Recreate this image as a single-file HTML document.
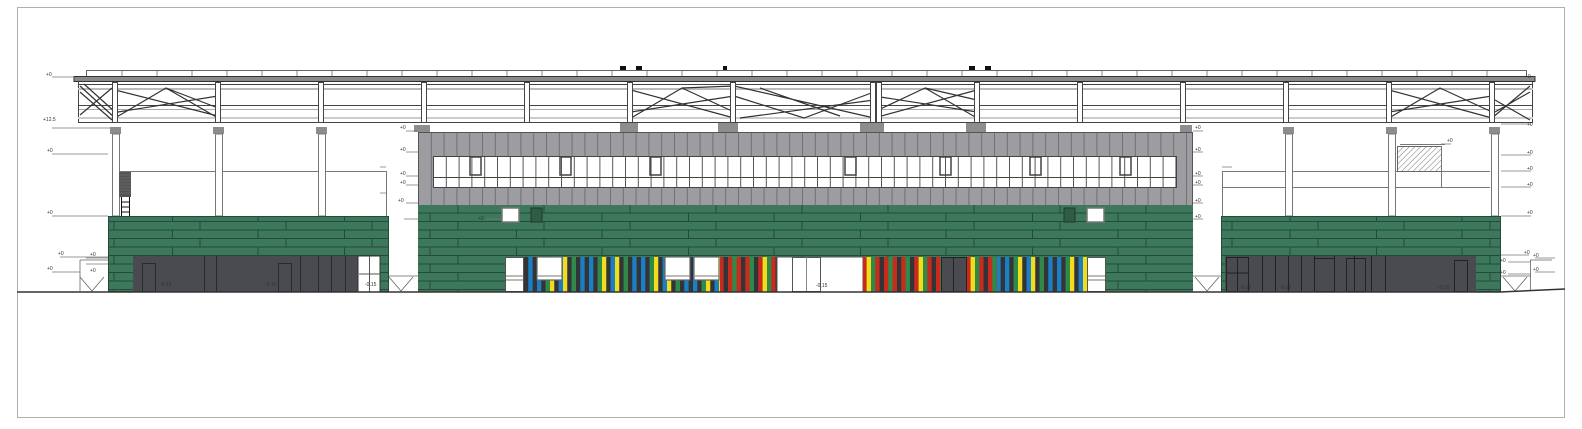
<!DOCTYPE html>
<html><head><meta charset="utf-8"><style>
html,body{margin:0;padding:0;background:#fff;}
svg{display:block;font-family:"Liberation Sans",sans-serif;}
</style></head><body>
<svg width="1582" height="429" viewBox="0 0 1582 429" xmlns="http://www.w3.org/2000/svg">
<defs>
<pattern id="grn" x="0" y="0" width="172" height="17" patternUnits="userSpaceOnUse">
<rect width="172" height="17" fill="#3d785c"/>
<line x1="0" y1="0.5" x2="172" y2="0.5" stroke="#244a38" stroke-width="1"/>
<line x1="0" y1="9" x2="172" y2="9" stroke="#244a38" stroke-width="1"/>
<line x1="28" y1="0" x2="28" y2="8.5" stroke="#244a38"/>
<line x1="114" y1="0" x2="114" y2="8.5" stroke="#244a38"/>
<line x1="0.5" y1="9" x2="0.5" y2="17" stroke="#244a38"/>
<line x1="86" y1="9" x2="86" y2="17" stroke="#244a38"/>
</pattern>
<pattern id="gry" x="418" y="0" width="12.8" height="10" patternUnits="userSpaceOnUse">
<rect width="12.8" height="10" fill="#9c9ca1"/>
<line x1="0.5" y1="0" x2="0.5" y2="10" stroke="#6f6f75"/>
</pattern>
<pattern id="win" x="433" y="0" width="12.8" height="10" patternUnits="userSpaceOnUse">
<rect width="12.8" height="10" fill="#fff"/>
<line x1="0.5" y1="0" x2="0.5" y2="10" stroke="#555"/>
</pattern>
<pattern id="stA" x="524" y="0" width="52" height="40" patternUnits="userSpaceOnUse">
<rect x="0" width="4.4" height="40" fill="#333338"/>
<rect x="4.33" width="4.4" height="40" fill="#1a7fc4"/>
<rect x="8.66" width="4.4" height="40" fill="#333338"/>
<rect x="13" width="4.4" height="40" fill="#1a7fc4"/>
<rect x="17.3" width="4.4" height="40" fill="#333338"/>
<rect x="21.6" width="4.4" height="40" fill="#2f8a4a"/>
<rect x="26" width="4.4" height="40" fill="#f2dd1a"/>
<rect x="30.3" width="4.4" height="40" fill="#333338"/>
<rect x="34.6" width="4.4" height="40" fill="#1a7fc4"/>
<rect x="39" width="4.4" height="40" fill="#f2dd1a"/>
<rect x="43.3" width="4.4" height="40" fill="#333338"/>
<rect x="47.6" width="4.4" height="40" fill="#2f8a4a"/>
</pattern>
<pattern id="stB" x="0" y="0" width="52" height="40" patternUnits="userSpaceOnUse">
<rect x="0" width="4.4" height="40" fill="#c92a1c"/>
<rect x="4.33" width="4.4" height="40" fill="#2f8a4a"/>
<rect x="8.66" width="4.4" height="40" fill="#c92a1c"/>
<rect x="13" width="4.4" height="40" fill="#333338"/>
<rect x="17.3" width="4.4" height="40" fill="#c92a1c"/>
<rect x="21.6" width="4.4" height="40" fill="#2f8a4a"/>
<rect x="26" width="4.4" height="40" fill="#333338"/>
<rect x="30.3" width="4.4" height="40" fill="#c92a1c"/>
<rect x="34.6" width="4.4" height="40" fill="#f2dd1a"/>
<rect x="39" width="4.4" height="40" fill="#2f8a4a"/>
<rect x="43.3" width="4.4" height="40" fill="#c92a1c"/>
<rect x="47.6" width="4.4" height="40" fill="#333338"/>
</pattern>
<pattern id="hatch" width="4" height="4" patternUnits="userSpaceOnUse" patternTransform="rotate(45)">
<rect width="4" height="4" fill="#fff"/><line x1="0" y1="0" x2="0" y2="4" stroke="#777" stroke-width="1"/>
</pattern>
</defs>

<!-- frame -->
<rect x="17.5" y="7.5" width="1547" height="410" fill="none" stroke="#b0b0b0"/>

<!-- chimneys -->
<rect x="620" y="66" width="6" height="6" fill="#111"/>
<rect x="636" y="66" width="6" height="6" fill="#111"/>
<rect x="723" y="66" width="4" height="6" fill="#111"/>
<rect x="969" y="66" width="6" height="6" fill="#111"/>
<rect x="985" y="66" width="6" height="6" fill="#111"/>

<!-- roof strip -->
<rect x="86.5" y="70.5" width="1440" height="6" fill="#fff" stroke="#666"/>
<g stroke="#888" stroke-width="1">
<path d="M122 71v5M157 71v5M192 71v5M227 71v5M262 71v5M297 71v5M332 71v5M367 71v5M402 71v5M437 71v5M472 71v5M507 71v5M542 71v5M577 71v5M612 71v5M647 71v5M682 71v5M717 71v5M752 71v5M787 71v5M822 71v5M857 71v5M892 71v5M927 71v5M962 71v5M997 71v5M1032 71v5M1067 71v5M1102 71v5M1137 71v5M1172 71v5M1207 71v5M1242 71v5M1277 71v5M1312 71v5M1347 71v5M1382 71v5M1417 71v5M1452 71v5M1487 71v5"/>
</g>
<rect x="74" y="76.5" width="1461" height="5" fill="#8a8a8a" stroke="#333" stroke-width="1"/>

<!-- truss chords -->
<g stroke="#444" stroke-width="1" fill="none">
<line x1="78" y1="84.5" x2="1533" y2="84.5"/>
<line x1="78" y1="88.5" x2="1533" y2="88.5" stroke="#999"/>
<line x1="78" y1="105.5" x2="1533" y2="105.5"/>
<line x1="78" y1="109.5" x2="1533" y2="109.5" stroke="#aaa"/>
<line x1="78" y1="117.5" x2="1533" y2="117.5"/>
<line x1="78" y1="122.5" x2="1533" y2="122.5"/>
<line x1="78.5" y1="82" x2="78.5" y2="123"/>
<line x1="1532.5" y1="82" x2="1532.5" y2="123"/>
</g>
<rect x="78" y="88" width="1455" height="2" fill="#bbb"/>
<rect x="78" y="117" width="1455" height="2" fill="#ccc"/>

<!-- X braces -->
<g stroke="#333" stroke-width="1.2" fill="none">
<path d="M80 86L115 118M80 92L112 120M80 115L112 88M84 84L115 112"/>
<path d="M115 90L218 116M115 118L166 88L218 108M118 112L218 96M166 88L218 118"/>
<path d="M631 118L682 88L734 112M631 90L734 118M631 112L734 96M682 88L734 86"/>
<path d="M734 86L874 118M734 96L804 118L874 92M740 118L874 100M760 88L840 116"/>
<path d="M874 112L925 88L977 118M874 118L977 90M874 96L977 112M925 88L977 100"/>
<path d="M1389 118L1440 88L1492 112M1389 90L1492 118M1389 112L1492 96"/>
<path d="M1492 118L1530 86M1495 112L1530 92M1495 100L1530 120"/>
</g>

<!-- truss verticals at columns -->
<g fill="#fff" stroke="#444" stroke-width="1">
<rect x="112.5" y="82.5" width="5" height="40"/>
<rect x="215.5" y="82.5" width="5" height="40"/>
<rect x="318.5" y="82.5" width="5" height="40"/>
<rect x="421.5" y="82.5" width="5" height="40"/>
<rect x="524.5" y="82.5" width="5" height="40"/>
<rect x="627.5" y="82.5" width="5" height="40"/>
<rect x="730.5" y="82.5" width="5" height="40"/>
<rect x="870.5" y="82.5" width="5" height="40"/>
<rect x="876.5" y="82.5" width="5" height="40"/>
<rect x="974.5" y="82.5" width="5" height="40"/>
<rect x="1077.5" y="82.5" width="5" height="40"/>
<rect x="1180.5" y="82.5" width="5" height="40"/>
<rect x="1283.5" y="82.5" width="5" height="40"/>
<rect x="1386.5" y="82.5" width="5" height="40"/>
<rect x="1489.5" y="82.5" width="5" height="40"/>
</g>

<!-- column caps -->
<g fill="#8d8d8d">
<rect x="110" y="127" width="11" height="7"/>
<rect x="213" y="127" width="11" height="7"/>
<rect x="316" y="127" width="11" height="7"/>
<rect x="414" y="125" width="16" height="7"/>
<rect x="620" y="123" width="18" height="9"/>
<rect x="718" y="123" width="20" height="9"/>
<rect x="860" y="123" width="24" height="9"/>
<rect x="966" y="123" width="20" height="9"/>
<rect x="1180" y="125" width="12" height="7"/>
<rect x="1283" y="127" width="11" height="7"/>
<rect x="1386" y="127" width="11" height="7"/>
<rect x="1489" y="127" width="11" height="7"/>
</g>

<!-- left wall lines -->
<g stroke="#777" stroke-width="1" fill="none">
<line x1="118" y1="171.5" x2="386" y2="171.5"/>
<line x1="386.5" y1="171" x2="386.5" y2="276"/>
<line x1="1222" y1="171.5" x2="1490" y2="171.5"/>
<line x1="1222" y1="187.5" x2="1490" y2="187.5"/>
<line x1="1222.5" y1="171" x2="1222.5" y2="216"/>
<line x1="1400" y1="144.5" x2="1445" y2="144.5"/>
</g>
<rect x="1397.5" y="146.5" width="44" height="25" fill="url(#hatch)" stroke="#666"/>
<line x1="1441.5" y1="146" x2="1441.5" y2="188" stroke="#777"/>

<!-- column shafts -->
<g fill="#fff" stroke="#777" stroke-width="1">
<rect x="112.5" y="134" width="7" height="82"/>
<rect x="215.5" y="134" width="7" height="82"/>
<rect x="318.5" y="134" width="7" height="82"/>
<rect x="1285.5" y="134" width="7" height="82"/>
<rect x="1388.5" y="134" width="7" height="82"/>
<rect x="1491.5" y="134" width="7" height="82"/>
</g>

<!-- ladder -->
<rect x="119" y="172" width="12" height="25" fill="#555"/>
<g stroke="#777" stroke-width="0.6"><path d="M119 175h12M119 178h12M119 181h12M119 184h12M119 187h12M119 190h12M119 193h12"/></g>
<g stroke="#111" stroke-width="1" fill="none">
<path d="M121.5 197v45M129.5 197v45M121 202h8M121 207h8M121 212h8M121 217h8M121 222h8M121 227h8M121 232h8M121 237h8"/>
</g>

<!-- left green block -->
<rect x="108" y="216" width="281" height="76" fill="url(#grn)"/>
<rect x="108.5" y="216.5" width="280" height="75" fill="none" stroke="#244a38"/>
<rect x="133" y="256" width="225" height="36" fill="#4a4a51"/>
<g stroke="#2a2a2e" fill="none" stroke-width="1">
<rect x="142.5" y="263.5" width="13" height="28"/>
<rect x="278.5" y="263.5" width="13" height="28"/>
<path d="M204.5 256v36M216.5 256v36M300.5 256v36M318.5 256v36M331.5 256v36M345.5 256v36"/>
</g>
<rect x="358" y="256" width="22" height="36" fill="#fff" stroke="#333"/>
<path d="M369.5 256v36M359 274h21" stroke="#555" fill="none"/>
<path d="M389 276h30M389 277l12 14l12-14" stroke="#666" fill="none" stroke-width="0.8"/>
<path d="M80 260h28M80 260v31M80 277l12 14l12-14" stroke="#666" fill="none" stroke-width="0.8"/>

<!-- middle block gray -->
<rect x="418" y="132" width="775" height="73" fill="url(#gry)"/>
<rect x="433" y="156" width="744" height="32" fill="url(#win)"/>
<rect x="433.5" y="156.5" width="743" height="31" fill="none" stroke="#444"/>
<line x1="433" y1="177.5" x2="1177" y2="177.5" stroke="#444"/>
<g fill="none" stroke="#444" stroke-width="1.5">
<rect x="470" y="157" width="11" height="18"/>
<rect x="560" y="157" width="11" height="18"/>
<rect x="650" y="157" width="11" height="18"/>
<rect x="845" y="157" width="11" height="18"/>
<rect x="940" y="157" width="11" height="18"/>
<rect x="1030" y="157" width="11" height="18"/>
<rect x="1120" y="157" width="11" height="18"/>
</g>
<rect x="418.5" y="132.5" width="774" height="159" fill="none" stroke="#555"/>

<!-- middle green -->
<rect x="418" y="205" width="775" height="87" fill="url(#grn)"/>
<rect x="502" y="208" width="17" height="14" fill="#fff" stroke="#777" stroke-width="1.5"/>
<rect x="531" y="208" width="11" height="14" fill="#2f5c45" stroke="#1d3a2c"/>
<rect x="1064" y="208" width="11" height="14" fill="#2f5c45" stroke="#1d3a2c"/>
<rect x="1087" y="208" width="17" height="14" fill="#fff" stroke="#777" stroke-width="1.5"/>

<!-- colour band -->
<rect x="524" y="257" width="196" height="35" fill="url(#stA)"/>
<rect x="720" y="257" width="57" height="35" fill="url(#stB)"/>
<rect x="777" y="257" width="86" height="35" fill="#fff" stroke="#555"/>
<rect x="792.5" y="257.5" width="28" height="34" fill="#fff" stroke="#555"/>
<line x1="806.5" y1="257" x2="806.5" y2="292" stroke="#888"/>
<rect x="863" y="257" width="78" height="35" fill="url(#stB)"/>
<rect x="941.5" y="257.5" width="12" height="34" fill="#4a4a51" stroke="#222"/>
<rect x="953.5" y="257.5" width="13" height="34" fill="#4a4a51" stroke="#222"/>
<rect x="967" y="257" width="30" height="35" fill="url(#stB)"/>
<rect x="997" y="257" width="90" height="35" fill="url(#stA)"/>
<rect x="505.5" y="257.5" width="18" height="34" fill="#fff" stroke="#555"/>
<path d="M506 276h17M506 280h17" stroke="#777"/>
<rect x="1087.5" y="257.5" width="18" height="34" fill="#fff" stroke="#555"/>
<path d="M1088 276h17M1088 280h17" stroke="#777"/>
<g fill="#fff" stroke="#666" stroke-width="1.2">
<rect x="537" y="257" width="25" height="23"/>
<rect x="665" y="257" width="25" height="23"/>
<rect x="694" y="257" width="25" height="23"/>
</g>
<path d="M538 276h24M666 276h24M695 276h24" stroke="#777"/>

<!-- right green block -->
<rect x="1221" y="216" width="280" height="76" fill="url(#grn)"/>
<rect x="1221.5" y="216.5" width="279" height="75" fill="none" stroke="#244a38"/>
<rect x="1225" y="256" width="251" height="36" fill="#4a4a51"/>
<g stroke="#222" fill="none" stroke-width="1">
<rect x="1226.5" y="257.5" width="22" height="34"/>
<path d="M1237.5 257v35M1227 273h21"/>
<path d="M1262.5 256v36M1275.5 256v36M1288.5 256v36M1301.5 256v36M1314.5 256v36M1334.5 256v36M1354.5 256v36M1371.5 256v36M1385.5 256v36"/>
<rect x="1314.5" y="258.5" width="20" height="33"/>
<rect x="1346.5" y="258.5" width="19" height="33"/>
<rect x="1454.5" y="260.5" width="13" height="31"/>
</g>
<path d="M1193 276h28M1195 277l12 14l12-14" stroke="#666" fill="none" stroke-width="0.8"/>
<path d="M1501 276h30M1503 277l12 14l12-14M1530.5 260v31M1530 260h22" stroke="#666" fill="none" stroke-width="0.8"/>

<!-- ground -->
<line x1="17" y1="292" x2="1500" y2="292" stroke="#333" stroke-width="1.5"/>
<path d="M1500 292L1565 289" stroke="#333" stroke-width="1.5"/>

<!-- level markers -->
<g stroke="#777" stroke-width="0.7" fill="none">
<path d="M52 77h22M52 128h58M52 154h56M52 216h56M60 257h48M86 258h22M86 264h22M52 272h28"/>
<path d="M406 131h12M406 152h12M406 176h12M406 185h12M406 203h12M404 219h14M380 167h6M380 193h6M486 219h16"/>
<path d="M1193 131h10M1193 152h10M1193 176h10M1193 185h10M1193 203h10M1193 219h10M1222 167h10"/>
<path d="M1501 124h30M1501 155h30M1501 171h30M1501 187h30M1501 216h30M1501 255h28M1508 262h22M1508 274h22M1535 258h20M1535 272h20M1441 144h10"/>
</g>
<g font-size="5" fill="#333">
<text x="46" y="76">+0</text><text x="43" y="121">+12.5</text><text x="47" y="152">+0</text><text x="47" y="214">+0</text>
<text x="58" y="255">+0</text><text x="90" y="256">+0</text><text x="90" y="272">+0</text><text x="47" y="270">+0</text>
<text x="400" y="129">+0</text><text x="400" y="151">+0</text><text x="400" y="175">+0</text><text x="400" y="184">+0</text><text x="398" y="202">+0</text><text x="478" y="220">+0</text>
<text x="1195" y="129">+0</text><text x="1195" y="151">+0</text><text x="1195" y="175">+0</text><text x="1195" y="184">+0</text><text x="1195" y="202">+0</text><text x="1195" y="218">+0</text>
<text x="1525" y="78">+0</text><text x="1527" y="126">+0</text><text x="1527" y="154">+0</text><text x="1527" y="170">+0</text><text x="1527" y="186">+0</text><text x="1527" y="214">+0</text>
<text x="1524" y="254">+0</text><text x="1500" y="262">+0</text><text x="1500" y="274">+0</text><text x="1533" y="257">+0</text><text x="1533" y="271">+0</text><text x="1447" y="142">+0</text>
<text x="160" y="286">-0.15</text><text x="265" y="286">-0.15</text><text x="365" y="286">-0.15</text><text x="816" y="287">-0.15</text>
<text x="1240" y="289">-0.15</text><text x="1280" y="289">-0.15</text><text x="1438" y="289">-0.15</text>
</g>
</svg>
</body></html>
